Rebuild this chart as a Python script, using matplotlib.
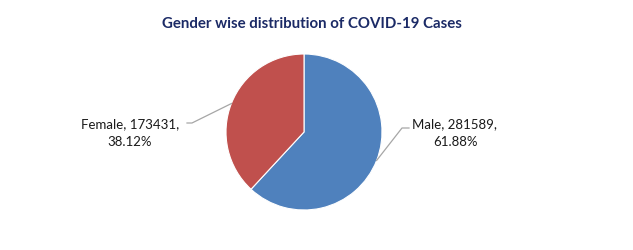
import numpy as np
import matplotlib
matplotlib.use('Agg')
import matplotlib.pyplot as plt

plt.rcParams['font.family'] = ['Lato', 'DejaVu Sans']

genders = ['Male', 'Female']
cases = [281589, 173431]
colors = ['#4F81BD', '#C0504D']

W, H = 633, 250
fig = plt.figure(figsize=(W / 100, H / 100), dpi=100)
ax = fig.add_axes([0, 0, 1, 1])

cx, cy, r = 304, 118, 78
wedges, _ = ax.pie(cases, colors=colors, startangle=90, counterclock=False,
                   center=(cx, cy), radius=r, frame=True,
                   wedgeprops=dict(linewidth=0.8, edgecolor='white'))
ax.set_xlim(0, W)
ax.set_ylim(0, H)
ax.set_aspect('equal')
ax.axis('off')

total = sum(cases)
# elbow points of the leader lines, text centres
elbows = {'Male': ((402, 122), (409, 122)), 'Female': ((192, 127), (187, 127))}
text_pos = {'Male': (455, 117), 'Female': (130, 117)}

for w, g, v in zip(wedges, genders, cases):
    ang = np.deg2rad((w.theta1 + w.theta2) / 2)
    ex, ey = cx + r * np.cos(ang), cy + r * np.sin(ang)
    (bx, by), (tx, ty) = elbows[g]
    ax.plot([ex, bx, tx], [ey, by, ty], color='#A6A6A6', lw=0.9)
    px, py = text_pos[g]
    ax.text(px, py, '%s, %d,\n%.2f%%' % (g, v, v / total * 100), ha='center', va='center',
            fontsize=9.5, color='#1A1A1A', linespacing=1.6)

fig.text(0.493, 1 - 24 / H, 'Gender wise distribution of COVID-19 Cases', ha='center', va='center',
         fontsize=10.8, fontweight='bold', color='#1B2A66')

fig.savefig('out.png', dpi=100)
